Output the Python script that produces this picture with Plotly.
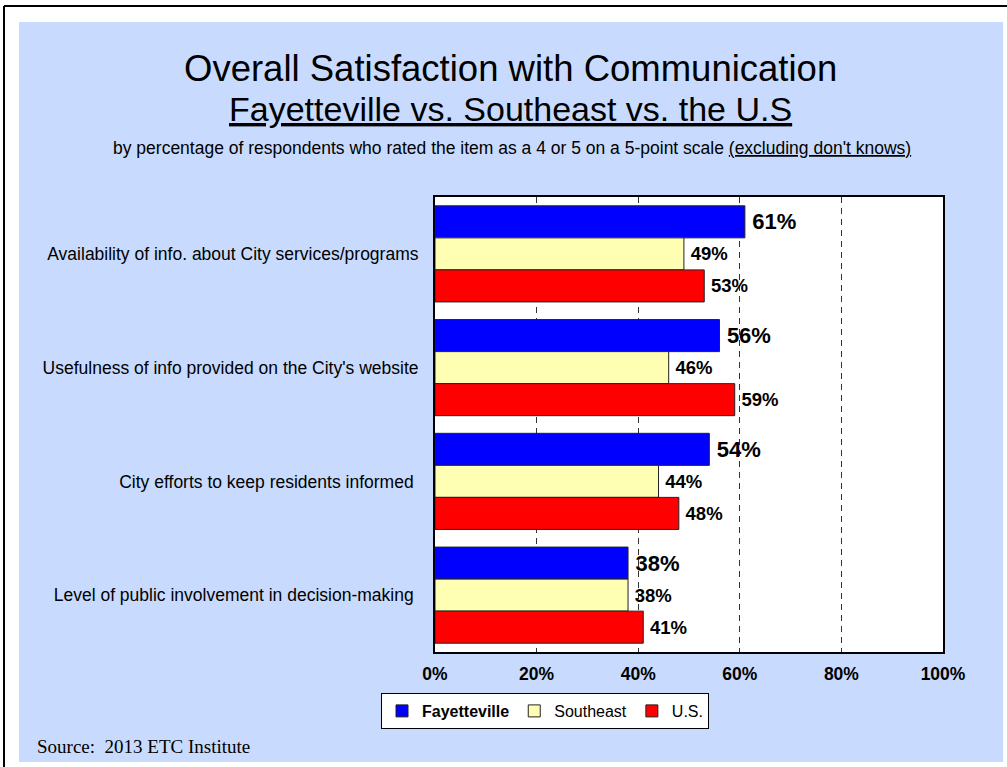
import plotly.graph_objects as go

# ---------------- data ----------------
categories = [
    "Availability of info. about City services/programs",
    "Usefulness of info provided on the City's website",
    "City efforts to keep residents informed\u00a0",
    "Level of public involvement in decision-making\u00a0",
]
fayetteville = [61, 56, 54, 38]
southeast = [49, 46, 44, 38]
us = [53, 59, 48, 41]
series_names = ["<b>Fayetteville</b>", "Southeast", "U.S."]
tick_vals = [0, 20, 40, 60, 80, 100]
tick_text = ["0%", "20%", "40%", "60%", "80%", "100%"]

# ---------------- layout helpers ----------------
W, H = 1007, 767
L, R, T, B = 435, 64, 197, 115
PW, PH = W - L - R, H - T - B


def px(x):
    return (x - L) / PW


def py(y):
    return (H - B - y) / PH


FONT = "Arial, Liberation Sans, sans-serif"
BG = "#C8DBFE"

fig = go.Figure()

styles = [
    dict(color="#0000FF", size=22),
    dict(color="#FFFFB3", size=18.5),
    dict(color="#FF0000", size=18.5),
]
for name, vals, st in zip(series_names, [fayetteville, southeast, us], styles):
    fig.add_trace(go.Bar(
        y=categories,
        x=vals,
        orientation="h",
        name=name,
        marker=dict(color=st["color"], line=dict(color="#222222", width=1)),
        text=["\u2009%d%%" % v for v in vals],
        textposition="outside",
        textfont=dict(family=FONT, size=st["size"], color="black", weight="bold"),
        cliponaxis=False,
        constraintext="none",
        hoverinfo="skip",
    ))

fig.update_layout(
    width=W, height=H,
    margin=dict(l=L, r=R, t=T, b=B, autoexpand=False),
    paper_bgcolor=BG,
    plot_bgcolor="white",
    barmode="group",
    bargap=0.155,
    bargroupgap=0,
    font=dict(family=FONT, color="black"),
    showlegend=True,
    legend=dict(
        orientation="h",
        x=px(545), xanchor="center",
        y=py(693), yanchor="top",
        bgcolor="white", bordercolor="black", borderwidth=1,
        font=dict(family=FONT, size=16, color="black"),
        traceorder="normal",
        itemwidth=30,
        tracegroupgap=0,
    ),
    xaxis=dict(
        range=[0, 100],
        tickvals=tick_vals,
        ticktext=tick_text,
        tickfont=dict(family=FONT, size=17.5, color="black", weight="bold"),
        ticks="",
        ticklabelstandoff=5,
        showgrid=True,
        gridcolor="#333333",
        gridwidth=1,
        griddash="6px,5px",
        zeroline=False,
        showline=True, mirror=True, linecolor="black", linewidth=2,
        fixedrange=True,
    ),
    yaxis=dict(
        autorange="reversed",
        tickfont=dict(family=FONT, size=17.5, color="black"),
        ticks="",
        ticklabelstandoff=11,
        showgrid=False,
        zeroline=False,
        showline=True, mirror=True, linecolor="black", linewidth=2,
        fixedrange=True,
    ),
)

# frame: white margin strips and black edge lines
shapes = [
    dict(type="rect", xref="paper", yref="paper", x0=px(0), x1=px(W), y0=py(0), y1=py(22),
         fillcolor="white", line=dict(width=0), layer="above"),
    dict(type="rect", xref="paper", yref="paper", x0=px(0), x1=px(19), y0=py(0), y1=py(H),
         fillcolor="white", line=dict(width=0), layer="above"),
    dict(type="rect", xref="paper", yref="paper", x0=px(1003), x1=px(W), y0=py(0), y1=py(H),
         fillcolor="white", line=dict(width=0), layer="above"),
    dict(type="rect", xref="paper", yref="paper", x0=px(0), x1=px(W), y0=py(762), y1=py(H),
         fillcolor="white", line=dict(width=0), layer="above"),
    dict(type="line", xref="paper", yref="paper", x0=px(4), x1=px(W), y0=py(6), y1=py(6),
         line=dict(color="black", width=2), layer="above"),
    dict(type="line", xref="paper", yref="paper", x0=px(4), x1=px(4), y0=py(6), y1=py(H),
         line=dict(color="black", width=2), layer="above"),
]
fig.update_layout(shapes=shapes)

annotations = [
    dict(text="Overall Satisfaction with Communication", x=px(510), y=py(69),
         font=dict(family=FONT, size=36.5, color="black")),
    dict(text="<u>Fayetteville vs. Southeast vs. the U.S</u>", x=px(510), y=py(109),
         font=dict(family=FONT, size=34, color="black")),
    dict(text="by percentage of respondents who rated the item as a 4 or 5 on a 5-point scale "
              "<u>(excluding don't knows)</u>", x=px(512), y=py(148),
         font=dict(family=FONT, size=17.5, color="black")),
]
for a in annotations:
    a.update(xref="paper", yref="paper", xanchor="center", yanchor="middle", showarrow=False)
annotations.append(dict(text="Source:  2013 ETC Institute", xref="paper", yref="paper",
                        x=px(35), y=py(746), xanchor="left", yanchor="middle", showarrow=False,
                        font=dict(family="Times New Roman, Liberation Serif, serif", size=19,
                                  color="black")))
fig.update_layout(annotations=annotations)

fig.write_html(
    "out.html",
    config={"displayModeBar": False, "responsive": False},
    post_script="document.body.style.margin='0px';document.body.style.padding='0px';",
)
